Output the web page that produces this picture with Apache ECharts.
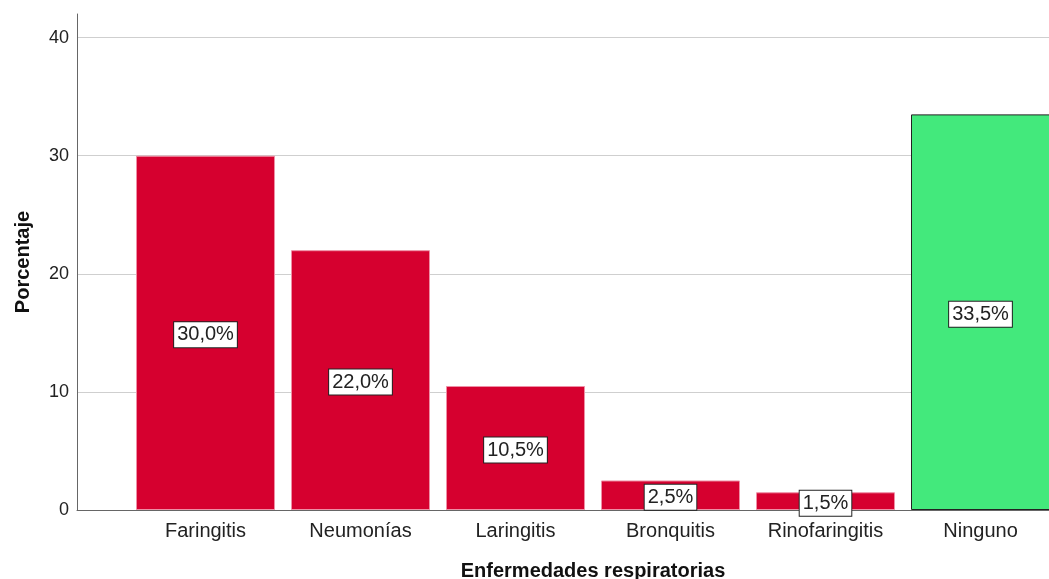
<!DOCTYPE html>
<html><head><meta charset="utf-8">
<script src="https://cdn.jsdelivr.net/npm/echarts@6/dist/echarts.min.js"></script>
<style>html,body{margin:0;padding:0;background:#fff}#c{width:1049px;height:579px}</style>
</head><body><div id="c"></div>
<script>
const categories = ['Faringitis','Neumonías','Laringitis','Bronquitis','Rinofaringitis','Ninguno'];
const values = [30.0, 22.0, 10.5, 2.5, 1.5, 33.5];
const barColors = ['#D6002F','#D6002F','#D6002F','#D6002F','#D6002F','#43E97C'];
const barBorders = ['#EE8FA5','#EE8FA5','#EE8FA5','#EE8FA5','#EE8FA5','#222222'];
const yTicks = [0, 10, 20, 30, 40];

const font = 'Liberation Sans, Arial, sans-serif';
const chart = echarts.init(document.getElementById('c'), null, {renderer:'canvas'});
chart.setOption({
  animation: false,
  backgroundColor: '#fff',
  grid: [
    {left: 77, right: 0, top: 14, height: 496, outerBoundsMode: 'none', containLabel: false},
    {left: 128, width: 930, top: 14, height: 496, outerBoundsMode: 'none', containLabel: false}
  ],
  xAxis: [
    {type:'value', gridIndex:0, min:0, max:1, axisLine:{show:true, lineStyle:{color:'#666', width:1}},
     axisTick:{show:false}, axisLabel:{show:false}, splitLine:{show:false}},
    {type:'category', gridIndex:1, data: categories, boundaryGap:true,
     axisLine:{show:false}, axisTick:{show:false},
     axisLabel:{color:'#222', fontSize:20, fontFamily:font, margin:11},
     name:'Enfermedades respiratorias', nameLocation:'middle', nameGap:51,
     nameTextStyle:{color:'#111', fontSize:20, fontWeight:'bold', fontFamily:font}}
  ],
  yAxis: [
    {type:'value', gridIndex:0, min:0, max:42, interval:10,
     axisLine:{show:true, lineStyle:{color:'#666', width:1}}, axisTick:{show:false},
     axisLabel:{color:'#222', fontSize:18, fontFamily:font, margin:8, showMaxLabel:false,
       formatter: v => yTicks.includes(v) ? String(v) : ''},
     splitLine:{show:true, showMaxLine:false, lineStyle:{color:'#cfcfcf', width:1}},
     name:'Porcentaje', nameLocation:'middle', nameGap:44,
     nameTextStyle:{color:'#111', fontSize:20, fontWeight:'bold', fontFamily:font}},
    {type:'value', gridIndex:1, min:0, max:42, interval:10, show:false}
  ],
  series: [{
    type:'bar', xAxisIndex:1, yAxisIndex:1, barWidth:139,
    data: values.map((v,i)=>({value:v, itemStyle:{color:barColors[i], borderColor:barBorders[i], borderWidth:1}})),
    label:{show:true, position:'inside', offset:[0,2], formatter: p => p.value.toFixed(1).replace('.', ',') + '%',
      color:'#222', fontSize:20, fontFamily:font, backgroundColor:'#fff',
      borderColor:'#222', borderWidth:1, padding:[3,3,2,3]}
  }]
});
</script></body></html>
